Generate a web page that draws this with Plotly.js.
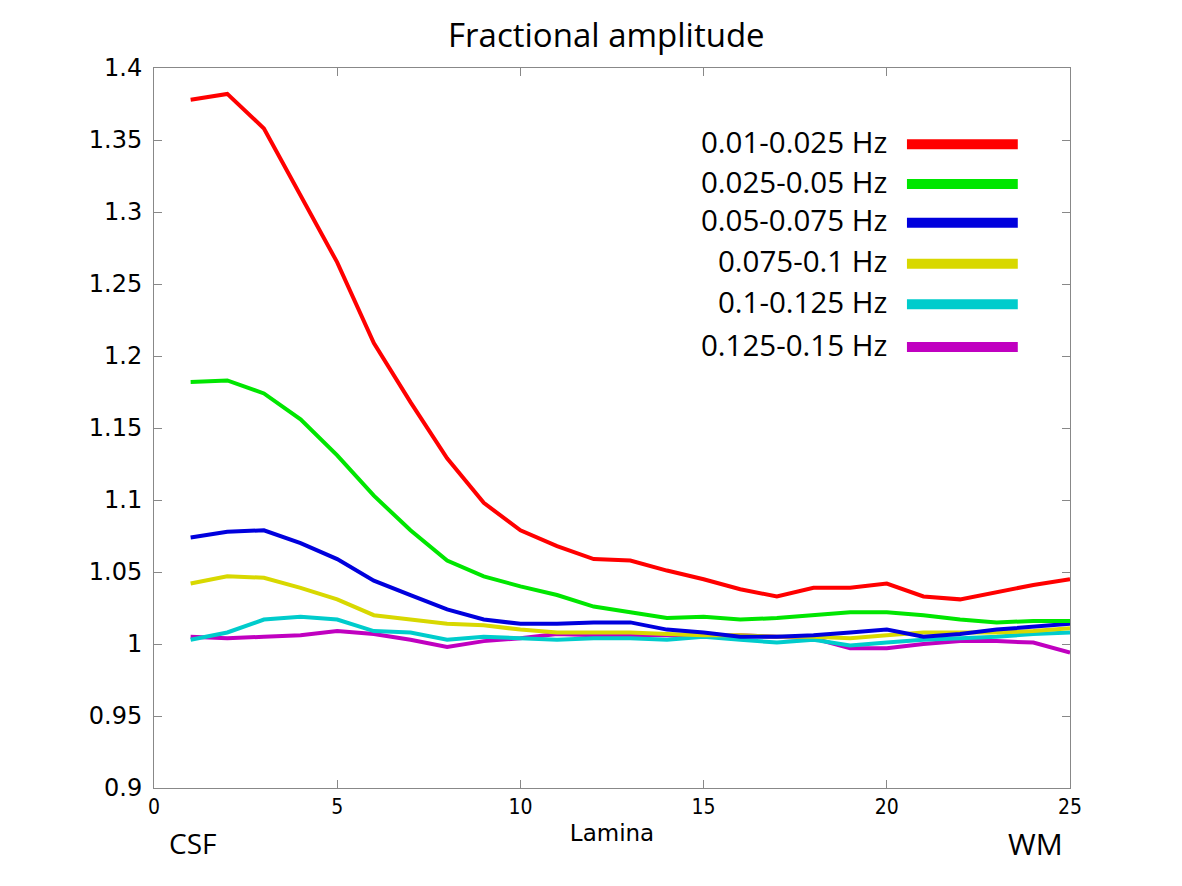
<!DOCTYPE html>
<html>
<head>
<meta charset="utf-8">
<script src="https://cdn.plot.ly/plotly-3.0.1.min.js"></script>
<style>html,body{margin:0;padding:0;background:#fff;}#chart{width:1182px;height:886px;}</style>
</head>
<body>
<div id="chart"></div>
<script>
const lamina = [1,2,3,4,5,6,7,8,9,10,11,12,13,14,15,16,17,18,19,20,21,22,23,24,25];
const seriesNames = ["0.01-0.025 Hz","0.025-0.05 Hz","0.05-0.075 Hz","0.075-0.1 Hz","0.1-0.125 Hz","0.125-0.15 Hz"];
const seriesColors = ["#ff0000","#00e600","#0000dd","#d8d800","#00cccc","#c000c0"];
const band1 = [1.378,1.382,1.358,1.312,1.265,1.209,1.168,1.129,1.098,1.079,1.068,1.059,1.058,1.051,1.045,1.038,1.033,1.039,1.039,1.042,1.033,1.031,1.036,1.041,1.045];
const band2 = [1.182,1.183,1.174,1.156,1.131,1.103,1.079,1.058,1.047,1.040,1.034,1.026,1.022,1.018,1.019,1.017,1.018,1.020,1.022,1.022,1.020,1.017,1.015,1.016,1.016];
const band3 = [1.074,1.078,1.079,1.070,1.059,1.044,1.034,1.024,1.017,1.014,1.014,1.015,1.015,1.010,1.008,1.005,1.005,1.006,1.008,1.010,1.005,1.007,1.010,1.012,1.014];
const band4 = [1.042,1.047,1.046,1.039,1.031,1.020,1.017,1.014,1.013,1.010,1.008,1.008,1.008,1.007,1.006,1.006,1.005,1.005,1.004,1.006,1.008,1.008,1.008,1.009,1.011];
const band5 = [1.003,1.008,1.017,1.019,1.017,1.009,1.008,1.003,1.005,1.004,1.003,1.004,1.004,1.003,1.005,1.003,1.001,1.003,0.999,1.001,1.003,1.004,1.005,1.007,1.008];
const band6 = [1.005,1.004,1.005,1.006,1.009,1.007,1.003,0.998,1.002,1.004,1.007,1.006,1.006,1.006,1.005,1.006,1.005,1.004,0.997,0.997,1.000,1.002,1.002,1.001,0.994];
const xTicks = [0,5,10,15,20,25];
const yTicks = [0.9,0.95,1,1.05,1.1,1.15,1.2,1.25,1.3,1.35,1.4];
const yTickText = ["0.9","0.95","1","1.05","1.1","1.15","1.2","1.25","1.3","1.35","1.4"];

const bands = [band1,band2,band3,band4,band5,band6];
const traces = bands.map((b,i)=>({
  x: lamina, y: b, type:'scatter', mode:'lines', name: seriesNames[i],
  line:{color: seriesColors[i], width:4}, showlegend:false
})).reverse();

const txtFont = 'Open Sans, Noto Sans, sans-serif';
const shapes = [];
const annotations = [];
const legY = [0.894,0.839,0.785,0.728,0.672,0.6125];
seriesNames.forEach((n,i)=>{
  shapes.push({type:'line', xref:'paper', yref:'paper', x0:0.822, x1:0.943, y0:legY[i], y1:legY[i],
    line:{color:seriesColors[i], width:10}});
  annotations.push({xref:'paper', yref:'paper', x:0.802, y:legY[i]+0.004, xanchor:'right', yanchor:'middle',
    text:n, showarrow:false, font:{family:txtFont, size:29.5, color:'#000'}});
});
annotations.push({xref:'paper', yref:'paper', x:0.042, y:-0.077, xanchor:'center', yanchor:'middle',
  text:'CSF', showarrow:false, font:{family:txtFont, size:28, color:'#000'}});
annotations.push({xref:'paper', yref:'paper', x:0.962, y:-0.077, xanchor:'center', yanchor:'middle',
  text:'WM', showarrow:false, font:{family:txtFont, size:30, color:'#000'}});

const layout = {
  width:1182, height:886,
  margin:{l:154, r:112, t:68, b:98},
  paper_bgcolor:'#fff', plot_bgcolor:'#fff',
  title:{text:'Fractional amplitude', x:0.513, xanchor:'center', y:0.96, yanchor:'middle',
    font:{family:txtFont, size:33, color:'#000'}},
  xaxis:{range:[0,25], tickvals:xTicks, ticks:'inside', ticklen:8, tickcolor:'#888',
    showline:true, linecolor:'#888', linewidth:1, mirror:'ticks', showgrid:false, zeroline:false,
    tickfont:{family:'DejaVu Sans Condensed, DejaVu Sans, sans-serif', size:21, color:'#000'},
    title:{text:'Lamina', standoff:6, font:{family:'DejaVu Sans, sans-serif', size:23, color:'#000'}}},
  yaxis:{range:[0.9,1.4], tickvals:yTicks, ticktext:yTickText, ticks:'inside', ticklen:8, tickcolor:'#888',
    showline:true, linecolor:'#888', linewidth:1, mirror:'ticks', showgrid:false, zeroline:false,
    ticklabelstandoff:6,
    tickfont:{family:'DejaVu Sans, sans-serif', size:24, color:'#000'}},
  shapes: shapes,
  annotations: annotations,
  showlegend:false
};
Plotly.newPlot('chart', traces, layout, {displayModeBar:false, staticPlot:true});
</script>
</body>
</html>
